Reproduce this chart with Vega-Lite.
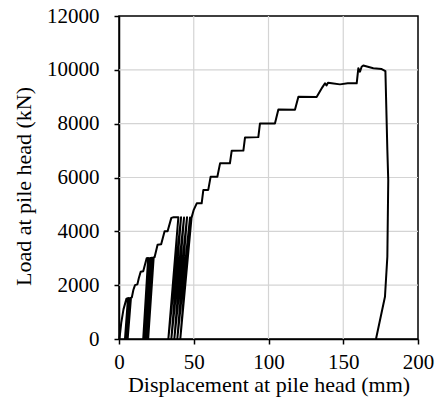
{
  "$schema": "https://vega.github.io/schema/vega-lite/v6.json",
  "width": 299,
  "height": 323,
  "autosize": "none",
  "padding": {"left": 119, "top": 16, "right": 22, "bottom": 71},
  "background": "white",
  "config": {
    "font": "Liberation Serif",
    "view": {"stroke": "black", "strokeWidth": 1.5},
    "style": {
      "guide-label": {"font": "Liberation Serif", "fontSize": 21, "fill": "black"},
      "guide-title": {"font": "Liberation Serif", "fontSize": 22, "fill": "black", "fontWeight": "normal"}
    }
  },
  "datasets": {
    "gridx": [{"v": 50}, {"v": 100}, {"v": 150}],
    "gridy": [{"v": 2000}, {"v": 4000}, {"v": 6000}, {"v": 8000}, {"v": 10000}],
    "curve": [
      {"i": 0, "d": 0.3, "L": 0},
      {"i": 1, "d": 1.5, "L": 600},
      {"i": 2, "d": 3, "L": 1100},
      {"i": 3, "d": 5, "L": 1500},
      {"i": 4, "d": 6, "L": 1520},
      {"i": 5, "d": 4, "L": 0},
      {"i": 6, "d": 6.5, "L": 1510},
      {"i": 7, "d": 4.6, "L": 0},
      {"i": 8, "d": 7, "L": 1510},
      {"i": 9, "d": 5.2, "L": 0},
      {"i": 10, "d": 7.5, "L": 1520},
      {"i": 11, "d": 5.8, "L": 0},
      {"i": 12, "d": 8, "L": 1530},
      {"i": 13, "d": 8.6, "L": 1550},
      {"i": 14, "d": 9.6, "L": 1820},
      {"i": 15, "d": 10.7, "L": 2000},
      {"i": 16, "d": 12.3, "L": 2030},
      {"i": 17, "d": 13.2, "L": 2250},
      {"i": 18, "d": 14.5, "L": 2500},
      {"i": 19, "d": 16.2, "L": 2520},
      {"i": 20, "d": 18.5, "L": 3000},
      {"i": 21, "d": 19.5, "L": 3010},
      {"i": 22, "d": 16.2, "L": 0},
      {"i": 23, "d": 20.2, "L": 3000},
      {"i": 24, "d": 17, "L": 0},
      {"i": 25, "d": 21, "L": 3010},
      {"i": 26, "d": 17.8, "L": 0},
      {"i": 27, "d": 21.8, "L": 3020},
      {"i": 28, "d": 18.6, "L": 0},
      {"i": 29, "d": 22.6, "L": 3020},
      {"i": 30, "d": 19.5, "L": 0},
      {"i": 31, "d": 23.2, "L": 3030},
      {"i": 32, "d": 23.8, "L": 3040},
      {"i": 33, "d": 25.8, "L": 3500},
      {"i": 34, "d": 28.2, "L": 3520},
      {"i": 35, "d": 30.5, "L": 4000},
      {"i": 36, "d": 32.5, "L": 4000},
      {"i": 37, "d": 35, "L": 4500},
      {"i": 38, "d": 36.5, "L": 4520},
      {"i": 39, "d": 39.7, "L": 4520},
      {"i": 40, "d": 33, "L": 0},
      {"i": 41, "d": 41.5, "L": 4520},
      {"i": 42, "d": 35, "L": 0},
      {"i": 43, "d": 43.5, "L": 4510},
      {"i": 44, "d": 37, "L": 0},
      {"i": 45, "d": 45.5, "L": 4520},
      {"i": 46, "d": 39, "L": 0},
      {"i": 47, "d": 47.5, "L": 4510},
      {"i": 48, "d": 41, "L": 0},
      {"i": 49, "d": 48.5, "L": 4500},
      {"i": 50, "d": 50, "L": 4800},
      {"i": 51, "d": 52, "L": 5040},
      {"i": 52, "d": 55.3, "L": 5040},
      {"i": 53, "d": 56.4, "L": 5535},
      {"i": 54, "d": 59.7, "L": 5540},
      {"i": 55, "d": 61.3, "L": 6030},
      {"i": 56, "d": 65.8, "L": 6030},
      {"i": 57, "d": 67.6, "L": 6525},
      {"i": 58, "d": 74.2, "L": 6530},
      {"i": 59, "d": 75.4, "L": 6995},
      {"i": 60, "d": 83.2, "L": 7000},
      {"i": 61, "d": 84.3, "L": 7490},
      {"i": 62, "d": 93.2, "L": 7500},
      {"i": 63, "d": 94.3, "L": 8010},
      {"i": 64, "d": 104.3, "L": 8010},
      {"i": 65, "d": 106.6, "L": 8530},
      {"i": 66, "d": 117.7, "L": 8520},
      {"i": 67, "d": 120, "L": 9000},
      {"i": 68, "d": 132.2, "L": 8990},
      {"i": 69, "d": 136, "L": 9350},
      {"i": 70, "d": 137.8, "L": 9500},
      {"i": 71, "d": 138.8, "L": 9420},
      {"i": 72, "d": 139.8, "L": 9520},
      {"i": 73, "d": 142.3, "L": 9500},
      {"i": 74, "d": 147.8, "L": 9460},
      {"i": 75, "d": 153, "L": 9500},
      {"i": 76, "d": 159, "L": 9500},
      {"i": 77, "d": 160.1, "L": 10060},
      {"i": 78, "d": 161.2, "L": 9930},
      {"i": 79, "d": 162.3, "L": 10115},
      {"i": 80, "d": 163.4, "L": 10160},
      {"i": 81, "d": 170.1, "L": 10060},
      {"i": 82, "d": 175.7, "L": 10030},
      {"i": 83, "d": 178.2, "L": 9955},
      {"i": 84, "d": 179.5, "L": 7020},
      {"i": 85, "d": 180.1, "L": 5900},
      {"i": 86, "d": 179.5, "L": 3060},
      {"i": 87, "d": 177.9, "L": 1570},
      {"i": 88, "d": 171.9, "L": 0}
    ]
  },
  "layer": [
    {
      "data": {"name": "gridx"},
      "mark": {"type": "rule", "color": "#d4d4d4", "strokeWidth": 1.2},
      "encoding": {
        "x": {
          "field": "v", "type": "quantitative",
          "scale": {"domain": [0, 200], "nice": false, "zero": false},
          "axis": {
            "values": [0, 50, 100, 150, 200],
            "title": "Displacement at pile head (mm)",
            "grid": false,
            "domainColor": "black", "domainWidth": 1.5,
            "tickColor": "black", "tickWidth": 1.5, "tickSize": 5,
            "labelFont": "Liberation Serif", "labelFontSize": 21, "labelColor": "black",
            "labelPadding": 7, "labelFlush": false,
            "titleFont": "Liberation Serif", "titleFontSize": 22, "titleFontWeight": "normal", "titleColor": "black",
            "titleBaseline": "alphabetic", "titleY": 52
          }
        }
      }
    },
    {
      "data": {"name": "gridy"},
      "mark": {"type": "rule", "color": "#d4d4d4", "strokeWidth": 1.2},
      "encoding": {
        "y": {
          "field": "v", "type": "quantitative",
          "scale": {"domain": [0, 12000], "nice": false},
          "axis": {
            "values": [0, 2000, 4000, 6000, 8000, 10000, 12000],
            "title": "Load at pile head (kN)",
            "format": "d",
            "grid": false,
            "domainColor": "black", "domainWidth": 1.5,
            "tickColor": "black", "tickWidth": 1.5, "tickSize": 5,
            "labelFont": "Liberation Serif", "labelFontSize": 21, "labelColor": "black",
            "labelPadding": 15, "labelFlush": false,
            "titleFont": "Liberation Serif", "titleFontSize": 22, "titleFontWeight": "normal", "titleColor": "black",
            "titleX": -84, "titleY": 170
          }
        }
      }
    },
    {
      "data": {"name": "curve"},
      "mark": {"type": "line", "color": "black", "strokeWidth": 2, "strokeJoin": "round"},
      "encoding": {
        "x": {
          "field": "d", "type": "quantitative",
          "scale": {"domain": [0, 200], "nice": false, "zero": false},
          "axis": {
            "values": [0, 50, 100, 150, 200],
            "title": "Displacement at pile head (mm)",
            "grid": false,
            "domainColor": "black", "domainWidth": 1.5,
            "tickColor": "black", "tickWidth": 1.5, "tickSize": 5,
            "labelFont": "Liberation Serif", "labelFontSize": 21, "labelColor": "black",
            "labelPadding": 7, "labelFlush": false,
            "titleFont": "Liberation Serif", "titleFontSize": 22, "titleFontWeight": "normal", "titleColor": "black",
            "titleBaseline": "alphabetic", "titleY": 52
          }
        },
        "y": {
          "field": "L", "type": "quantitative",
          "scale": {"domain": [0, 12000], "nice": false},
          "axis": {
            "values": [0, 2000, 4000, 6000, 8000, 10000, 12000],
            "title": "Load at pile head (kN)",
            "format": "d",
            "grid": false,
            "domainColor": "black", "domainWidth": 1.5,
            "tickColor": "black", "tickWidth": 1.5, "tickSize": 5,
            "labelFont": "Liberation Serif", "labelFontSize": 21, "labelColor": "black",
            "labelPadding": 15, "labelFlush": false,
            "titleFont": "Liberation Serif", "titleFontSize": 22, "titleFontWeight": "normal", "titleColor": "black",
            "titleX": -84, "titleY": 170
          }
        },
        "order": {"field": "i", "type": "quantitative"}
      }
    }
  ]
}
